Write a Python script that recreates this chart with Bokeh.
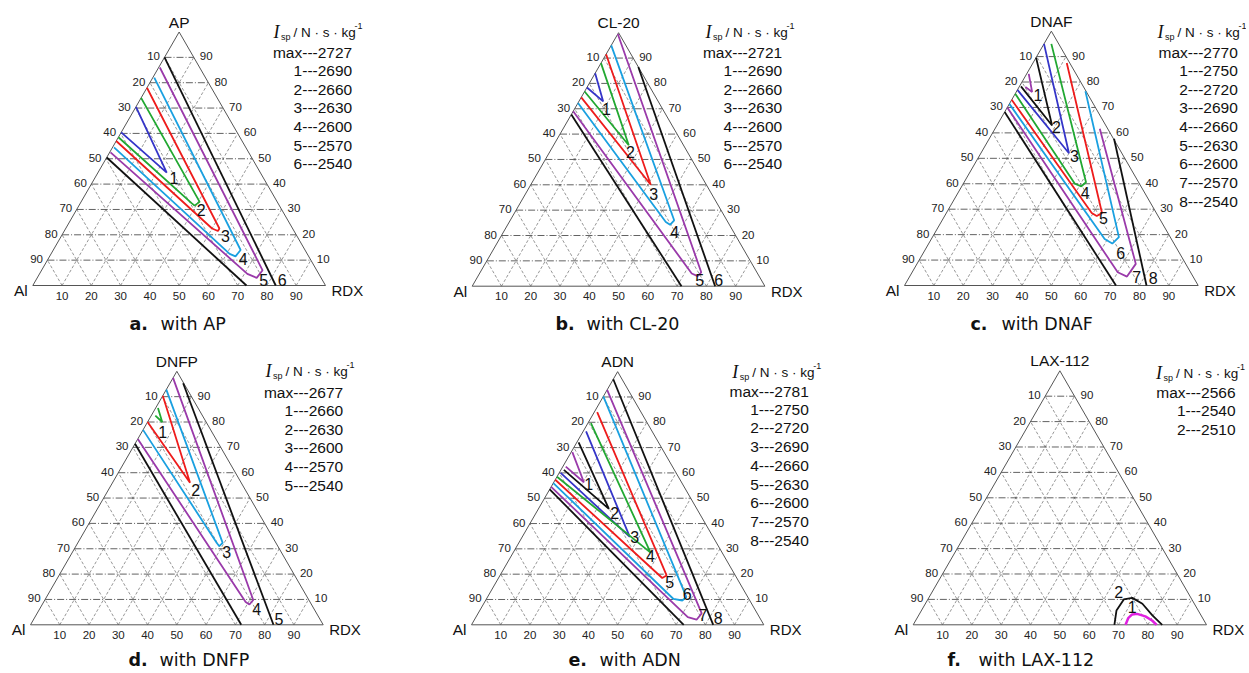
import math
from bokeh.plotting import figure
from bokeh.models import Range1d
from bokeh.embed import file_html
from bokeh.resources import INLINE
from bokeh.core.properties import value

# ---------------- data ----------------
ticks = [10, 20, 30, 40, 50, 60, 70, 80, 90]
names = ["AP", "CL-20", "DNAF", "DNFP", "ADN", "LAX-112"]
letters = ["a.", "b.", "c.", "d.", "e.", "f."]

levels_AP = ["max---2727", "1---2690", "2---2660", "3---2630", "4---2600", "5---2570", "6---2540"]
levels_CL20 = ["max---2721", "1---2690", "2---2660", "3---2630", "4---2600", "5---2570", "6---2540"]
levels_DNAF = ["max---2770", "1---2750", "2---2720", "3---2690", "4---2660", "5---2630", "6---2600", "7---2570", "8---2540"]
levels_DNFP = ["max---2677", "1---2660", "2---2630", "3---2600", "4---2570", "5---2540"]
levels_ADN = ["max---2781", "1---2750", "2---2720", "3---2690", "4---2660", "5---2630", "6---2600", "7---2570", "8---2540"]
levels_LAX = ["max---2566", "1---2540", "2---2510"]

# contours: (colour, [(RDX %, AP %), ...])
contours_AP = [
    ("blue", [(0, 70.5), (23.5, 44.5), (0, 60.4)]),
    ("green", [(0, 74), (40.5, 33), (39.5, 31.5), (38, 32.5), (0, 58.5)]),
    ("red", [(0, 78), (52.5, 22.5), (52.5, 21.5), (50, 22.5), (0, 57)]),
    ("cyan", [(0.5, 82), (64, 14), (63.5, 11.5), (61, 12.5), (0.5, 54.5)]),
    ("purple", [(0.4, 86), (75.5, 6), (75, 3), (71, 4.6), (0.3, 52.5)]),
    ("black", [(0, 90), (83, 0)]),
    ("black", [(0, 50.5), (73, 0)]),
]
labels_AP = [("1", 27, 42.5), ("2", 42.6, 29.8), ("3", 56, 19.7), ("4", 66.6, 10.5), ("5", 77.8, 2.2), ("6", 84.1, 2.2)]

contours_CL20 = [
    ("blue", [(0, 84), (8.3, 72.9), (0, 78.4)]),
    ("green", [(0, 88), (25.7, 55.6), (0, 76.8)]),
    ("red", [(0, 91.5), (41, 40), (0, 74.5)]),
    ("cyan", [(0, 95), (56, 26), (55.5, 24.2), (53.5, 25.3), (0, 72.3)]),
    ("purple", [(0, 99.5), (75.5, 5.5), (75, 4), (72.5, 5), (0, 69)]),
    ("black", [(13.5, 86.5), (83, 0)]),
    ("black", [(0, 67.7), (71.5, 0)]),
]
labels_CL20 = [("1", 10.9, 70), ("2", 27.6, 53), ("3", 43.8, 36.5), ("4", 58.6, 21.2), ("5", 76.5, 2.5), ("6", 83, 2.5)]

contours_DNAF = [
    ("purple", [(0.7, 83.2), (5.4, 76.1), (2.1, 78.1)]),
    ("black", [(0, 89.6), (18.8, 62.9), (0.5, 78.3)]),
    ("blue", [(0, 95), (30, 52), (0, 76.9)]),
    ("green", [(2.5, 95), (41.5, 40.6), (40.7, 39), (38, 40), (0, 75.4)]),
    ("red", [(11.5, 87.5), (53, 28.5), (51.8, 27.3), (49.5, 28.5), (0, 73)]),
    ("cyan", [(23.4, 76.4), (63.5, 19), (62.5, 16.5), (59, 18.3), (0, 71.4)]),
    ("purple", [(35.7, 61.6), (74.5, 8.5), (74, 3.5), (70, 5.2), (0, 70)]),
    ("black", [(42.5, 57.7), (82.4, 0)]),
    ("black", [(0, 68.2), (72, 0)]),
]
labels_DNAF = [("1", 7.9, 75), ("2", 20.5, 62.5), ("3", 32.3, 51.1), ("4", 43.4, 36.3), ("5", 54.5, 26.5),
               ("6", 67.2, 12.8), ("7", 77.4, 3.3), ("8", 83.2, 2.9)]

contours_DNFP = [
    ("green", [(0.8, 85.5), (5, 80), (1.4, 82.5)]),
    ("red", [(0, 90.4), (26.5, 56), (0, 80)]),
    ("cyan", [(0, 92.8), (49.5, 32.3), (49, 31), (47.5, 32.3), (0, 76.9)]),
    ("purple", [(0, 97.4), (71.2, 9.8), (70.8, 8), (69, 9), (0, 73.3)]),
    ("black", [(4.5, 95.3), (83, 0)]),
    ("black", [(0, 71.4), (72, 0)]),
]
labels_DNFP = [("1", 7.1, 76.2), ("2", 29.9, 53), ("3", 52.7, 28.6), ("4", 74.1, 6.3), ("5", 83.8, 2.1)]

contours_ADN = [
    ("purple", [(0.4, 68.2), (10.3, 56.3), (1, 62.5)]),
    ("black", [(0.6, 72.1), (24.1, 45.8), (1, 61.2)]),
    ("blue", [(1, 76.4), (36.8, 34.7), (0.5, 60)]),
    ("green", [(1, 79.7), (47, 28.5), (0, 58.5)]),
    ("red", [(1, 84), (57, 19.5), (56, 18.5), (0, 57.3)]),
    ("cyan", [(0, 90.2), (68, 11), (67.3, 9.6), (64, 10.2), (0, 56)]),
    ("purple", [(0, 92.8), (76.5, 4.5), (76, 2), (72.5, 3), (0, 54.5)]),
    ("black", [(0, 97), (82.7, 0)]),
    ("black", [(0, 53.5), (72.6, 0)]),
]
labels_ADN = [("1", 12.2, 55.8), ("2", 26.8, 44.3), ("3", 38.5, 34.7), ("4", 47.6, 27.3), ("5", 59.4, 16.8),
              ("6", 67.7, 12.2), ("7", 77.3, 3.7), ("8", 83.1, 2.6)]

contours_LAX = [
    ("magenta", [(72.4, 0), (72, 2.6), (72.6, 4.1), (74.2, 4.3), (77.5, 3.3), (80.6, 1.7), (83, 0)]),
    ("black", [(68.6, 0), (66.5, 5.6), (66.8, 10), (69.4, 10.6), (74, 8.3), (79.7, 3.7), (84.9, 0)]),
]
labels_LAX = [("2", 63.7, 12.8), ("1", 71.2, 6.9)]

# ---------------- style / layout ----------------
COL = {"blue": "#3535c8", "green": "#22a832", "red": "#ee1c1c", "cyan": "#1aa0e0",
       "purple": "#9a3aaa", "black": "#111111", "magenta": "#e020e0"}
SANS = "Liberation Sans"
SQ = math.sqrt(3) / 2

# (Al vertex x, Al vertex y, side) in page pixels
geom = [(32.3, 285.0, 292.7), (471.7, 285.7, 292.7), (904.0, 285.0, 293.7),
        (30.0, 624.3, 292.7), (471.0, 624.3, 292.3), (912.7, 624.3, 293.3)]
# legend: value right x, first line y, header x, header y
leg = [(351.7, 51.7, 273, 31.7), (781.7, 51.7, 705, 31.7), (1237.3, 51.7, 1157, 31.7),
       (342.7, 391.7, 265, 370.5), (808.3, 390.5, 731.7, 371.7), (1235, 391.7, 1155.5, 372.7)]
caps = [(129, 323), (555, 323), (970, 323), (128, 659), (568, 659), (947, 659)]

all_levels = [levels_AP, levels_CL20, levels_DNAF, levels_DNFP, levels_ADN, levels_LAX]
all_contours = [contours_AP, contours_CL20, contours_DNAF, contours_DNFP, contours_ADN, contours_LAX]
all_labels = [labels_AP, labels_CL20, labels_DNAF, labels_DNFP, labels_ADN, labels_LAX]

W, H = 1246, 671
p = figure(width=W, height=H, x_range=Range1d(0, W), y_range=Range1d(H, 0),
           output_backend="svg", toolbar_location=None, x_axis_type=None, y_axis_type=None,
           min_border=0, outline_line_color=None)
p.grid.visible = False


def T(g, r, a):
    x0, y0, s = g
    return x0 + s * (r + a / 2) / 100.0, y0 - s * a * SQ / 100.0


for i in range(6):
    g = geom[i]
    # grid lines
    hx, hy, dx, dy = [], [], [], []
    for k in ticks:
        (xa, ya), (xb, yb) = T(g, 0, k), T(g, 100 - k, k)
        hx.append([xa, xb]); hy.append([ya, yb])
        (xa, ya), (xb, yb) = T(g, k, 0), T(g, k, 100 - k)
        dx.append([xa, xb]); dy.append([ya, yb])
        (xa, ya), (xb, yb) = T(g, 100 - k, 0), T(g, 0, 100 - k)
        dx.append([xa, xb]); dy.append([ya, yb])
    p.multi_line(dx, dy, line_color="#6a6a6a", line_width=0.7, line_dash="3 2")
    p.multi_line(hx, hy, line_color="#505050", line_width=0.9, line_dash="7 2 1 2")
    ox, oy = zip(*[T(g, r, a) for r, a in [(0, 0), (100, 0), (0, 100), (0, 0)]])
    p.line(list(ox), list(oy), line_color="#555555", line_width=1.0)

    # tick labels
    lx, ly, rx, ry, bx, by = [], [], [], [], [], []
    for k in ticks:
        x, y = T(g, 0, 100 - k); lx.append(x - 4.5); ly.append(y - 1)
        x, y = T(g, 100 - k, k); rx.append(x + 6); ry.append(y - 1)
        x, y = T(g, k, 0); bx.append(x); by.append(y + 10)
    tl = [str(k) for k in ticks]
    for xs_, ys_, al in [(lx, ly, "right"), (rx, ry, "left"), (bx, by, "center")]:
        p.text(xs_, ys_, text=tl, text_font=value(SANS), text_font_size="11.5px", text_color="#222222",
               text_align=al, text_baseline="middle")

    # vertex labels
    x, y = T(g, 0, 100)
    p.text([x], [y - 10], text=[names[i]], text_font=value(SANS), text_font_size="15.5px",
           text_color="#111111", text_align="center", text_baseline="middle")
    x, y = T(g, 0, 0)
    p.text([x - 5], [y + 5], text=["Al"], text_font=value(SANS), text_font_size="15.5px",
           text_color="#111111", text_align="right", text_baseline="middle")
    x, y = T(g, 100, 0)
    p.text([x + 6], [y + 5], text=["RDX"], text_font=value(SANS), text_font_size="15px",
           text_color="#111111", text_align="left", text_baseline="middle")

    # contours
    for col, pts in all_contours[i]:
        xs, ys = zip(*[T(g, r, a) for r, a in pts])
        p.line(list(xs), list(ys), line_color=COL[col], line_width=2.5 if col == "magenta" else 1.8)
    cl = all_labels[i]
    cx, cy = zip(*[T(g, r, a) for _, r, a in cl])
    p.text(list(cx), list(cy), text=[t for t, _, _ in cl], text_font=value(SANS), text_font_size="16px",
           text_color="#111111", text_align="center", text_baseline="middle")

    # legend
    xr, y1, hxh, hyh = leg[i]
    lv = all_levels[i]
    p.text([xr] * len(lv), [y1 + j * 18.7 for j in range(len(lv))], text=lv, text_font=value(SANS),
           text_font_size="15.5px", text_color="#111111", text_align="right", text_baseline="middle")
    p.text([hxh], [hyh], text=["I"], text_font=value("Liberation Serif"), text_font_style="italic",
           text_font_size="18px", text_color="#111111", text_align="left", text_baseline="middle")
    p.text([hxh + 7.5], [hyh + 4.5], text=["sp"], text_font=value(SANS), text_font_size="9px",
           text_color="#111111", text_align="left", text_baseline="middle")
    p.text([hxh + 20], [hyh], text=["/ N · s · kg"], text_font=value(SANS), text_font_size="13.5px",
           text_color="#111111", text_align="left", text_baseline="middle")
    p.text([hxh + 81], [hyh - 6], text=["-1"], text_font=value(SANS), text_font_size="9px",
           text_color="#111111", text_align="left", text_baseline="middle")

    # caption
    cxp, cyp = caps[i]
    p.text([cxp], [cyp], text=[letters[i]], text_font=value("DejaVu Sans"), text_font_style="bold",
           text_font_size="17.5px", text_color="#111111", text_align="left", text_baseline="middle")
    p.text([cxp + 31], [cyp], text=["with " + names[i]], text_font=value("DejaVu Sans"),
           text_font_size="17.5px", text_color="#111111", text_align="left", text_baseline="middle")

open("out.html", "w").write(file_html(p, INLINE))
